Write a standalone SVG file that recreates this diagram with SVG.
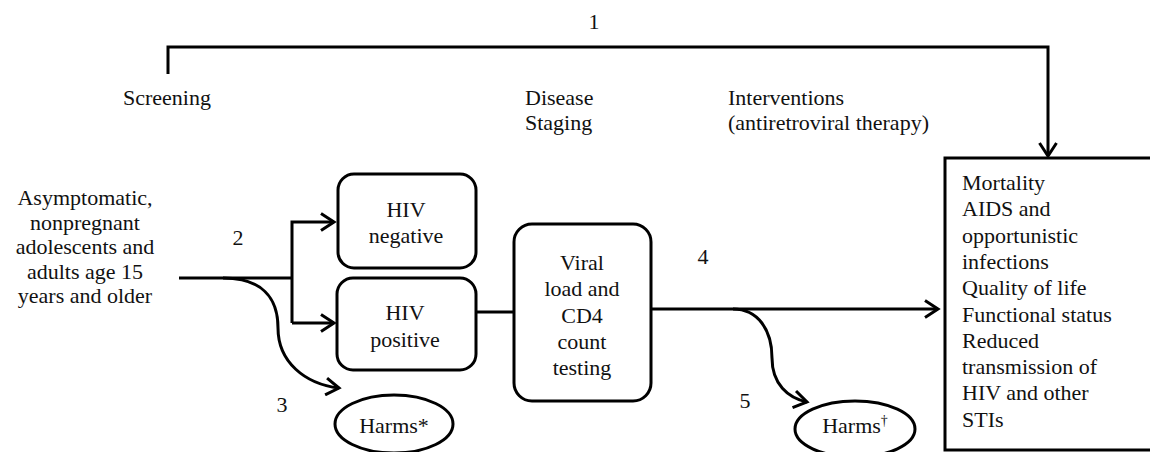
<svg xmlns="http://www.w3.org/2000/svg" width="1150" height="452" viewBox="0 0 1150 452" font-family="Liberation Serif, DejaVu Serif, serif">
<style>
text{font-size:22px;fill:#111}
.c{text-anchor:middle}
.box{fill:#fff;stroke:#000;stroke-width:3}
.ln{fill:none;stroke:#000;stroke-width:3}
</style>
<defs>
<marker id="arr" markerUnits="userSpaceOnUse" markerWidth="20" markerHeight="20" refX="15" refY="10" orient="auto">
<path d="M2,1.5 L15,10 L2,18.5" fill="none" stroke="#000" stroke-width="3"/>
</marker>
</defs>
<rect width="1150" height="452" fill="#fff"/>
<g id="labels">
<text x="594" y="29" class="c">1</text>
<text x="123" y="105">Screening</text>
<text x="525" y="105">Disease</text>
<text x="525" y="130">Staging</text>
<text x="728" y="105">Interventions</text>
<text x="728" y="130">(antiretroviral therapy)</text>
<text x="238" y="245" class="c">2</text>
<text x="282" y="412" class="c">3</text>
<text x="703" y="264" class="c">4</text>
<text x="745" y="408" class="c">5</text>
</g>
<g id="connectors">
<path class="ln" d="M168,74 V47 H1048 V156" marker-end="url(#arr)"/>
<path class="ln" d="M179,278 H292"/>
<path class="ln" d="M292,323 V222 H334" marker-end="url(#arr)"/>
<path class="ln" d="M292,323 H334" marker-end="url(#arr)"/>
<path class="ln" d="M223,278 C262,278 278,298 278,328 C278,362 305,384 339,388" marker-end="url(#arr)"/>
<path class="ln" d="M476,312 H514"/>
<path class="ln" d="M651,309 H938" marker-end="url(#arr)"/>
<path class="ln" d="M733,309 C758,309 772,330 772,358 C772,384 788,398 807,402" marker-end="url(#arr)"/>
</g>
<g id="population">
<text x="85" y="205" class="c">Asymptomatic,</text>
<text x="85" y="229.5" class="c">nonpregnant</text>
<text x="85" y="254" class="c">adolescents and</text>
<text x="85" y="278.5" class="c">adults age 15</text>
<text x="85" y="303" class="c">years and older</text>
</g>
<g id="hiv-negative">
<rect class="box" x="338" y="174" width="138" height="94" rx="16"/>
<text x="406" y="217" class="c">HIV</text>
<text x="406" y="243" class="c">negative</text>
</g>
<g id="hiv-positive">
<rect class="box" x="337" y="278" width="139" height="92" rx="16"/>
<text x="405" y="320" class="c">HIV</text>
<text x="405" y="347" class="c">positive</text>
</g>
<g id="viral-load">
<rect class="box" x="514" y="224" width="137" height="177" rx="18"/>
<text x="582" y="270" class="c">Viral</text>
<text x="582" y="296" class="c">load and</text>
<text x="582" y="323" class="c">CD4</text>
<text x="582" y="349" class="c">count</text>
<text x="582" y="375" class="c">testing</text>
</g>
<g id="harms-screening">
<ellipse class="box" cx="394" cy="424" rx="59" ry="29"/>
<text x="394" y="433" class="c">Harms*</text>
</g>
<g id="harms-treatment">
<ellipse class="box" cx="855" cy="429" rx="60" ry="28"/>
<text x="855" y="433" class="c">Harms<tspan font-size="14" dy="-8">†</tspan></text>
</g>
<g id="outcomes">
<rect class="box" x="945" y="158" width="210" height="292"/>
<text x="962" y="190">Mortality</text>
<text x="962" y="216.3">AIDS and</text>
<text x="962" y="242.6">opportunistic</text>
<text x="962" y="268.9">infections</text>
<text x="962" y="295.2">Quality of life</text>
<text x="962" y="321.5">Functional status</text>
<text x="962" y="347.8">Reduced</text>
<text x="962" y="374.1">transmission of</text>
<text x="962" y="400.4">HIV and other</text>
<text x="962" y="426.7">STIs</text>
</g>
</svg>
